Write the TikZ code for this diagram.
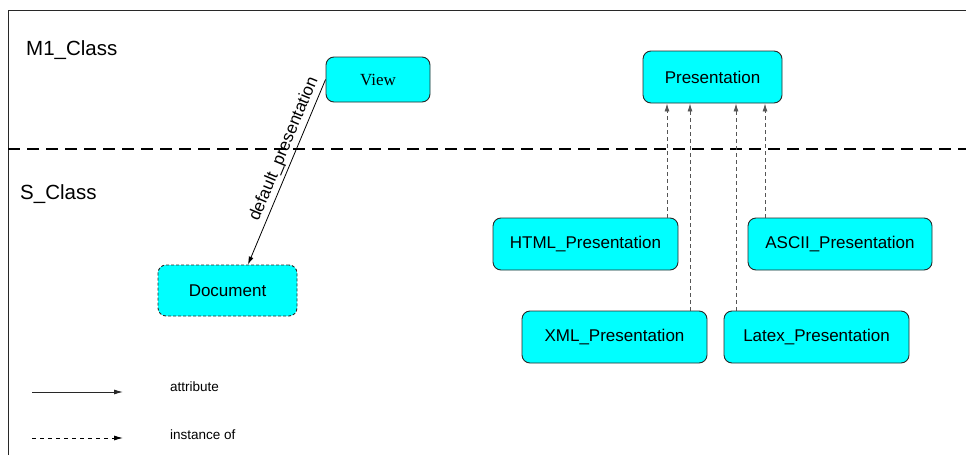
\documentclass[tikz,border=0pt]{standalone}
\usepackage{fontspec}
\setmainfont{Liberation Sans}
\newfontfamily\serifview{Liberation Serif}
\usetikzlibrary{arrows.meta}
\definecolor{boxcyan}{RGB}{0,255,255}
\definecolor{edgegray}{RGB}{40,40,40}
\definecolor{instgray}{RGB}{85,85,85}
\tikzset{
  cbox/.style={draw=edgegray, line width=0.9pt, fill=boxcyan, rounded corners=8pt,
    inner sep=0pt, align=center, font=\fontsize{17}{20}\selectfont},
  dashbox/.style={cbox, dash pattern=on 3pt off 2pt},
  attrarrow/.style={draw=black, line width=0.8pt, -{Latex[length=8pt,width=5pt]}},
  instarrow/.style={draw=instgray, line width=0.9pt, dash pattern=on 4pt off 3pt,
    -{Latex[length=8pt,width=5pt]}, shorten <=0pt},
  legendtext/.style={anchor=west, inner sep=0pt, font=\fontsize{13.5}{16}\selectfont},
  leveltext/.style={anchor=west, inner sep=0pt, font=\fontsize{20.5}{24}\selectfont},
}
\begin{document}
\begin{tikzpicture}[x=1pt, y=-1pt]
\useasboundingbox (0,0) rectangle (966,455);
% frame
\coordinate (fbl) at (8,455);
\coordinate (ftl) at (8,10);
\coordinate (ftr) at (966,10);
\draw[edgegray, line width=1pt] (fbl) -- (ftl) -- (ftr);
% level separator
\coordinate (sepl) at (8,149);
\coordinate (sepr) at (966,149);
\draw[black, line width=2pt, dash pattern=on 12pt off 7pt] (sepl) -- (sepr);
% level labels
\node[leveltext] (m1) at (26,50) {M1\_Class};
\node[leveltext] (sc) at (20,194) {S\_Class};
% nodes
\node[cbox, minimum width=104pt, minimum height=45pt, font=\fontsize{17}{20}\serifview] (view) at (378,79.5) {View};
\node[dashbox, minimum width=139pt, minimum height=51pt] (doc) at (227.5,290.5) {Document};
\node[cbox, minimum width=139pt, minimum height=52pt] (pres) at (712.5,77) {Presentation};
\node[cbox, minimum width=185pt, minimum height=52pt] (html) at (585.5,244) {HTML\_Presentation};
\node[cbox, minimum width=184pt, minimum height=52pt] (ascii) at (840,244) {ASCII\_Presentation};
\node[cbox, minimum width=185pt, minimum height=52pt] (xml) at (614.5,337) {XML\_Presentation};
\node[cbox, minimum width=185pt, minimum height=52pt] (latex) at (816.5,337) {Latex\_Presentation};
% attribute
\draw[attrarrow] (view.west) -- (doc.north -| 248,0)
  node[pos=0.4, sloped, above=3pt, inner sep=0pt, font=\fontsize{17}{20}\selectfont] (lbl) {default\_presentation};
% instance-of arrows
\draw[instarrow] (html.north -| 667,0) -- (pres.south -| 667,0);
\draw[instarrow] (xml.north -| 690,0) -- (pres.south -| 690,0);
\draw[instarrow] (latex.north -| 736,0) -- (pres.south -| 736,0);
\draw[instarrow] (ascii.north -| 765,0) -- (pres.south -| 765,0);
% legend
\coordinate (la1) at (32,392);
\coordinate (la2) at (123,392);
\coordinate (li1) at (32,438);
\coordinate (li2) at (123,438);
\draw[draw=edgegray, line width=0.9pt, -{Latex[length=9pt,width=5pt]}] (la1) -- (la2);
\draw[draw=black, line width=0.8pt, dash pattern=on 4pt off 4pt, -{Latex[length=9pt,width=5pt]}] (li1) -- (li2);
\node[legendtext] (lgattr) at (170,387) {attribute};
\node[legendtext] (lginst) at (170,435) {instance of};
\end{tikzpicture}
\end{document}
